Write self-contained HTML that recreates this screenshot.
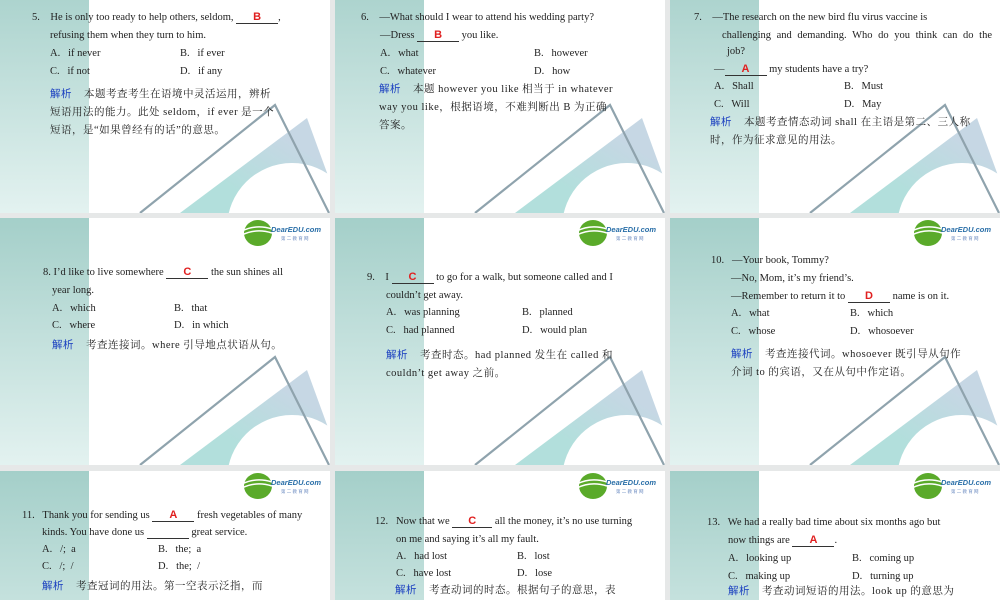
<!DOCTYPE html>
<html style="overflow:hidden;height:600px"><head><meta charset="utf-8"><style>
body{margin:0;width:1000px;height:600px;background:#e6e8e8;position:relative;overflow:hidden;font-family:"Liberation Serif","Noto Serif CJK SC",serif;font-size:10.5px;color:#222}
.s{position:absolute;overflow:hidden;background:#fff;width:330px}
.s svg{position:absolute;left:0}
.t{position:absolute;white-space:nowrap;line-height:14px;height:14px;overflow:visible}
.a{color:#e02020;font-family:"Liberation Sans",sans-serif;font-weight:bold;font-size:11px}
.b{display:inline-block;border-bottom:1px solid #333;text-align:center;line-height:11px}
.j{color:#1a3fc0;font-family:"Noto Sans CJK SC",sans-serif;margin-right:12px;line-height:10px}
.c{font-family:"Liberation Serif","Noto Serif CJK SC",serif;letter-spacing:0.5px}
</style></head><body>
<svg width="0" height="0" style="position:absolute;top:0;left:0"><defs>
<linearGradient id="g" x1="0" y1="0" x2="0" y2="1"><stop offset="0" stop-color="#a4cfc9"/><stop offset="1" stop-color="#e3f2f0"/></linearGradient>
<linearGradient id="f" x1="0" y1="1" x2="1" y2="0"><stop offset="0.3" stop-color="#b2dfdc"/><stop offset="0.75" stop-color="#c6d7e4"/></linearGradient>
<symbol id="bg" viewBox="0 0 330 247">
<rect x="0" y="0" width="89" height="247" fill="url(#g)"/>
<polygon points="180,247 307,152 330,215 330,247" fill="url(#f)"/>
<circle cx="292" cy="262" r="65" fill="#fff"/>
<polyline points="140,247 275,139 329,247" fill="none" stroke="#8fa3ad" stroke-width="2.2"/>
<ellipse cx="258" cy="15" rx="14" ry="13" fill="#5aaa2a"/>
<path d="M242,13 Q256,6 272,11 M242,17 Q256,10 272,15" stroke="#fff" stroke-width="1.5" fill="none"/>
<text x="271" y="14" font-family="Liberation Sans,sans-serif" font-size="7.5" font-weight="bold" font-style="italic" fill="#2a6fa8">DearEDU.com</text>
<text x="281" y="22" font-family="Liberation Sans,sans-serif" font-size="4.5" fill="#6a8ac0">第 二 教 育 网</text>
</symbol></defs></svg>

<div class="s" style="left:0;top:0;height:213px"><svg width="330" height="247" style="top:-34px"><use href="#bg"/></svg></div>
<div class="s" style="left:335px;top:0;height:213px"><svg width="330" height="247" style="top:-34px"><use href="#bg"/></svg></div>
<div class="s" style="left:670px;top:0;height:213px"><svg width="330" height="247" style="top:-34px"><use href="#bg"/></svg></div>
<div class="s" style="left:0;top:218px;height:247px"><svg width="330" height="247" style="top:0"><use href="#bg"/></svg></div>
<div class="s" style="left:335px;top:218px;height:247px"><svg width="330" height="247" style="top:0"><use href="#bg"/></svg></div>
<div class="s" style="left:670px;top:218px;height:247px"><svg width="330" height="247" style="top:0"><use href="#bg"/></svg></div>
<div class="s" style="left:0;top:471px;height:129px"><svg width="330" height="247" style="top:0"><use href="#bg"/></svg></div>
<div class="s" style="left:335px;top:471px;height:129px"><svg width="330" height="247" style="top:0"><use href="#bg"/></svg></div>
<div class="s" style="left:670px;top:471px;height:129px"><svg width="330" height="247" style="top:0"><use href="#bg"/></svg></div>

<!-- 5 -->
<div class="t" style="left:32px;top:11px">5.&nbsp;&nbsp;&nbsp; He is only too ready to help others, seldom, <span class="b" style="width:42px"><span class="a">B</span></span>,</div>
<div class="t" style="left:50px;top:29px">refusing them when they turn to him.</div>
<div class="t" style="left:50px;top:47px">A.&nbsp;&nbsp; if never</div><div class="t" style="left:180px;top:47px">B.&nbsp;&nbsp; if ever</div>
<div class="t" style="left:50px;top:65px">C.&nbsp;&nbsp; if not</div><div class="t" style="left:180px;top:65px">D.&nbsp;&nbsp; if any</div>
<div class="t c" style="left:50px;top:88px"><span class="j">解析</span>本题考查考生在语境中灵活运用，辨析</div>
<div class="t c" style="left:50px;top:106px">短语用法的能力。此处 seldom，if ever 是一个</div>
<div class="t c" style="left:50px;top:124px">短语，是“如果曾经有的话”的意思。</div>
<!-- 6 -->
<div class="t" style="left:361px;top:11px">6.&nbsp;&nbsp;&nbsp; —What should I wear to attend his wedding party?</div>
<div class="t" style="left:380px;top:29px">—Dress <span class="b" style="width:42px"><span class="a">B</span></span> you like.</div>
<div class="t" style="left:380px;top:47px">A.&nbsp;&nbsp; what</div><div class="t" style="left:534px;top:47px">B.&nbsp;&nbsp; however</div>
<div class="t" style="left:380px;top:65px">C.&nbsp;&nbsp; whatever</div><div class="t" style="left:534px;top:65px">D.&nbsp;&nbsp; how</div>
<div class="t c" style="left:379px;top:83px"><span class="j">解析</span>本题 however you like 相当于 in whatever</div>
<div class="t c" style="left:379px;top:101px">way you like，根据语境，不难判断出 B 为正确</div>
<div class="t c" style="left:379px;top:119px">答案。</div>
<!-- 7 -->
<div class="t" style="left:694px;top:11px">7.&nbsp;&nbsp;&nbsp; —The research on the new bird flu virus vaccine is</div>
<div class="t" style="left:722px;top:29px;word-spacing:3px">challenging and demanding. Who do you think can do the</div>
<div class="t" style="left:727px;top:45px">job?</div>
<div class="t" style="left:714px;top:63px">—<span class="b" style="width:42px"><span class="a">A</span></span> my students have a try?</div>
<div class="t" style="left:714px;top:80px">A.&nbsp;&nbsp; Shall</div><div class="t" style="left:844px;top:80px">B.&nbsp;&nbsp; Must</div>
<div class="t" style="left:714px;top:98px">C.&nbsp;&nbsp; Will</div><div class="t" style="left:844px;top:98px">D.&nbsp;&nbsp; May</div>
<div class="t c" style="left:710px;top:116px"><span class="j">解析</span>本题考查情态动词 shall 在主语是第二、三人称</div>
<div class="t c" style="left:710px;top:134px">时，作为征求意见的用法。</div>
<!-- 8 -->
<div class="t" style="left:43px;top:266px">8. I’d like to live somewhere <span class="b" style="width:42px"><span class="a">C</span></span> the sun shines all</div>
<div class="t" style="left:52px;top:284px">year long.</div>
<div class="t" style="left:52px;top:302px">A.&nbsp;&nbsp; which</div><div class="t" style="left:174px;top:302px">B.&nbsp;&nbsp; that</div>
<div class="t" style="left:52px;top:319px">C.&nbsp;&nbsp; where</div><div class="t" style="left:174px;top:319px">D.&nbsp;&nbsp; in which</div>
<div class="t c" style="left:52px;top:339px"><span class="j">解析</span>考查连接词。where 引导地点状语从句。</div>
<!-- 9 -->
<div class="t" style="left:367px;top:271px">9.&nbsp;&nbsp;&nbsp; I <span class="b" style="width:42px"><span class="a">C</span></span> to go for a walk, but someone called and I</div>
<div class="t" style="left:386px;top:289px">couldn’t get away.</div>
<div class="t" style="left:386px;top:306px">A.&nbsp;&nbsp; was planning</div><div class="t" style="left:522px;top:306px">B.&nbsp;&nbsp; planned</div>
<div class="t" style="left:386px;top:324px">C.&nbsp;&nbsp; had planned</div><div class="t" style="left:522px;top:324px">D.&nbsp;&nbsp; would plan</div>
<div class="t c" style="left:386px;top:349px"><span class="j">解析</span>考查时态。had planned 发生在 called 和</div>
<div class="t c" style="left:386px;top:367px">couldn’t get away 之前。</div>
<!-- 10 -->
<div class="t" style="left:711px;top:254px">10.&nbsp;&nbsp; —Your book, Tommy?</div>
<div class="t" style="left:731px;top:272px">—No, Mom, it’s my friend’s.</div>
<div class="t" style="left:731px;top:290px">—Remember to return it to <span class="b" style="width:42px"><span class="a">D</span></span> name is on it.</div>
<div class="t" style="left:731px;top:307px">A.&nbsp;&nbsp; what</div><div class="t" style="left:850px;top:307px">B.&nbsp;&nbsp; which</div>
<div class="t" style="left:731px;top:325px">C.&nbsp;&nbsp; whose</div><div class="t" style="left:850px;top:325px">D.&nbsp;&nbsp; whosoever</div>
<div class="t c" style="left:731px;top:348px"><span class="j">解析</span>考查连接代词。whosoever 既引导从句作</div>
<div class="t c" style="left:731px;top:366px">介词 to 的宾语，又在从句中作定语。</div>
<!-- 11 -->
<div class="t" style="left:22px;top:509px">11.&nbsp;&nbsp; Thank you for sending us <span class="b" style="width:42px"><span class="a">A</span></span> fresh vegetables of many</div>
<div class="t" style="left:42px;top:526px">kinds. You have done us <span class="b" style="width:42px">&nbsp;</span> great service.</div>
<div class="t" style="left:42px;top:543px">A.&nbsp;&nbsp; /;&nbsp; a</div><div class="t" style="left:158px;top:543px">B.&nbsp;&nbsp; the;&nbsp; a</div>
<div class="t" style="left:42px;top:560px">C.&nbsp;&nbsp; /;&nbsp; /</div><div class="t" style="left:158px;top:560px">D.&nbsp;&nbsp; the;&nbsp; /</div>
<div class="t c" style="left:42px;top:580px"><span class="j">解析</span>考查冠词的用法。第一空表示泛指，而</div>
<!-- 12 -->
<div class="t" style="left:375px;top:515px">12.&nbsp;&nbsp; Now that we <span class="b" style="width:40px"><span class="a">C</span></span> all the money, it’s no use turning</div>
<div class="t" style="left:396px;top:533px">on me and saying it’s all my fault.</div>
<div class="t" style="left:396px;top:550px">A.&nbsp;&nbsp; had lost</div><div class="t" style="left:517px;top:550px">B.&nbsp;&nbsp; lost</div>
<div class="t" style="left:396px;top:567px">C.&nbsp;&nbsp; have lost</div><div class="t" style="left:517px;top:567px">D.&nbsp;&nbsp; lose</div>
<div class="t c" style="left:395px;top:584px"><span class="j">解析</span>考查动词的时态。根据句子的意思，表</div>
<!-- 13 -->
<div class="t" style="left:707px;top:516px">13.&nbsp;&nbsp; We had a really bad time about six months ago but</div>
<div class="t" style="left:728px;top:534px">now things are <span class="b" style="width:42px"><span class="a">A</span></span>.</div>
<div class="t" style="left:728px;top:552px">A.&nbsp;&nbsp; looking up</div><div class="t" style="left:852px;top:552px">B.&nbsp;&nbsp; coming up</div>
<div class="t" style="left:728px;top:570px">C.&nbsp;&nbsp; making up</div><div class="t" style="left:852px;top:570px">D.&nbsp;&nbsp; turning up</div>
<div class="t c" style="left:728px;top:585px"><span class="j">解析</span>考查动词短语的用法。look up 的意思为</div>
</body></html>
